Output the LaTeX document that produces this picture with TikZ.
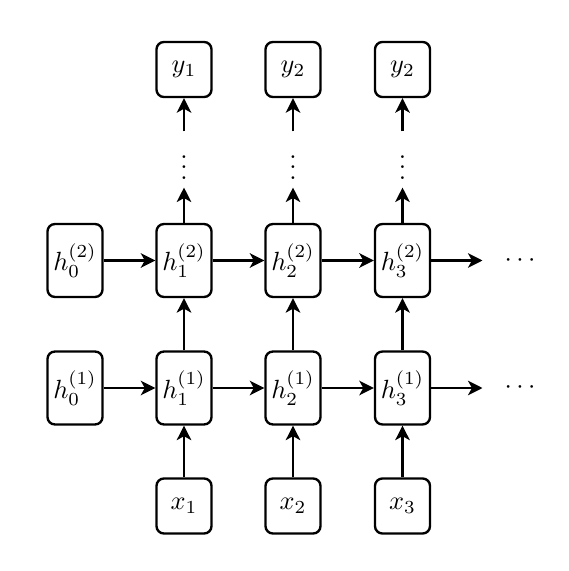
\documentclass[tikz,border=0pt]{standalone}
\usetikzlibrary{arrows.meta}
\begin{document}
\begin{tikzpicture}[x=0.38pt,y=-0.38pt,
  hbox/.style={draw,line width=0.9pt,rounded corners=2.8pt,inner sep=0pt,minimum width=20.9pt,minimum height=27.7pt},
  iobox/.style={draw,line width=0.9pt,rounded corners=2.8pt,inner sep=0pt,minimum width=20.9pt,minimum height=20.9pt},
  vdotsnode/.style={inner sep=0pt,minimum height=20.9pt,minimum width=10pt},
  cdotsnode/.style={inner sep=0pt,minimum width=28.1pt,minimum height=10pt},
  arr/.style={-{Stealth[length=5.5pt,width=5.5pt,inset=1.5pt]},line width=1pt}]
\useasboundingbox (0,0) rectangle (568,571);
% hidden layer 2
\node[hbox] (h20) at (75,260.5) {$h_0^{(2)}$};
\node[hbox] (h21) at (184,260.5) {$h_1^{(2)}$};
\node[hbox] (h22) at (293,260.5) {$h_2^{(2)}$};
\node[hbox] (h23) at (402.5,260.5) {$h_3^{(2)}$};
\node[cdotsnode] (c2) at (520,260.5) {$\cdots$};
% hidden layer 1
\node[hbox] (h10) at (75,388) {$h_0^{(1)}$};
\node[hbox] (h11) at (184,388) {$h_1^{(1)}$};
\node[hbox] (h12) at (293,388) {$h_2^{(1)}$};
\node[hbox] (h13) at (402.5,388) {$h_3^{(1)}$};
\node[cdotsnode] (c1) at (520,388) {$\cdots$};
% inputs
\node[iobox] (x1) at (184,506) {$x_1$};
\node[iobox] (x2) at (293,506) {$x_2$};
\node[iobox] (x3) at (402.5,506) {$x_3$};
% outputs
\node[iobox] (y1) at (184,69.5) {$y_1$};
\node[iobox] (y2) at (293,69.5) {$y_2$};
\node[iobox] (y3) at (402.5,69.5) {$y_2$};
% vertical dots
\node[vdotsnode] (v1) at (184,159.5) {$\vdots$};
\node[vdotsnode] (v2) at (293,159.5) {$\vdots$};
\node[vdotsnode] (v3) at (402.5,159.5) {$\vdots$};
% horizontal connectors
\draw[arr] (h20) -- (h21);
\draw[arr] (h21) -- (h22);
\draw[arr] (h22) -- (h23);
\draw[arr] (h23) -- (c2);
\draw[arr] (h10) -- (h11);
\draw[arr] (h11) -- (h12);
\draw[arr] (h12) -- (h13);
\draw[arr] (h13) -- (c1);
% vertical connectors
\draw[arr] (x1) -- (h11);
\draw[arr] (x2) -- (h12);
\draw[arr] (x3) -- (h13);
\draw[arr] (h11) -- (h21);
\draw[arr] (h12) -- (h22);
\draw[arr] (h13) -- (h23);
\draw[arr] (h21) -- (v1);
\draw[arr] (h22) -- (v2);
\draw[arr] (h23) -- (v3);
\draw[arr] (v1) -- (y1);
\draw[arr] (v2) -- (y2);
\draw[arr] (v3) -- (y3);
\end{tikzpicture}
\end{document}
